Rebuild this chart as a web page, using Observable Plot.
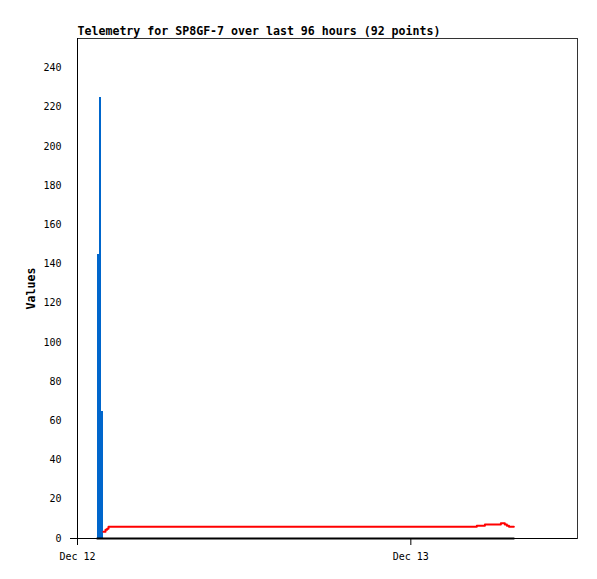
<!DOCTYPE html>
<html>
<head>
<meta charset="utf-8">
<script src="https://cdn.jsdelivr.net/npm/d3@7"></script>
<script src="https://cdn.jsdelivr.net/npm/@observablehq/plot@0.6"></script>
<style>
  html, body { margin: 0; padding: 0; background: #fff; }
  #chart svg { display: block; }
</style>
</head>
<body>
<div id="chart"></div>
<script>
// ---- data ----
const title = "Telemetry for SP8GF-7 over last 96 hours (92 points)";
const yLabel = "Values";
const xDomain = ["2023-12-12T00:00Z", "2023-12-13T12:00Z"];
const xTicks = ["2023-12-12T00:00Z", "2023-12-13T00:00Z"];
const yTicks = [0, 20, 40, 60, 80, 100, 120, 140, 160, 180, 200, 220, 240];

// blue series (bars)
const blueTimes = ["2023-12-12T01:25Z", "2023-12-12T01:37Z", "2023-12-12T01:44Z"];
const blueEnds  = ["2023-12-12T01:37Z", "2023-12-12T01:44Z", "2023-12-12T01:52Z"];
const blueValues = [145, 225, 65];

// red series (line)
const redTimes = ["2023-12-12T01:52Z", "2023-12-12T02:01Z", "2023-12-12T02:08Z", "2023-12-12T02:14Z",
  "2023-12-13T04:45Z", "2023-12-13T05:20Z", "2023-12-13T06:29Z", "2023-12-13T06:46Z",
  "2023-12-13T06:55Z", "2023-12-13T07:04Z", "2023-12-13T07:25Z"];
const redValues = [3.5, 4.5, 5, 6, 6.5, 7.1, 7.8, 7.1, 6.5, 6, 6];

// black series (zero line)
const blackTimes = ["2023-12-12T01:25Z", "2023-12-13T07:25Z"];
const blackValues = [0, 0];

// ---- build tables ----
const P = d3.isoParse;
const bars = blueTimes.map((t, i) => ({x1: P(t), x2: P(blueEnds[i]), y: blueValues[i]}));
const red = redTimes.map((t, i) => ({x: P(t), y: redValues[i]}));
const black = blackTimes.map((t, i) => ({x: P(t), y: blackValues[i]}));

const font = "'DejaVu Sans Mono', 'Liberation Mono', monospace";

const chart = Plot.plot({
  width: 597,
  height: 579,
  marginLeft: 77,
  marginRight: 20,
  marginTop: 38,
  marginBottom: 41,
  style: {fontFamily: font, fontSize: "10px", color: "#000", background: "#fff"},
  x: {type: "utc", domain: xDomain.map(P)},
  y: {domain: [0, 255]},
  marks: [
    Plot.frame({stroke: "#333", strokeWidth: 1}),
    Plot.rectY(bars, {x1: "x1", x2: "x2", y: "y", fill: "#0066cc", inset: 0, shapeRendering: "crispEdges"}),
    Plot.line(red, {x: "x", y: "y", stroke: "#ff0000", strokeWidth: 2, curve: "step-after"}),
    Plot.line(black, {x: "x", y: "y", stroke: "#000", strokeWidth: 2}),
    Plot.ruleY([0], {stroke: "#000", strokeWidth: 1}),
    Plot.ruleX([P(xDomain[0])], {stroke: "#000", strokeWidth: 1}),
    Plot.axisY({ticks: yTicks, tickSize: 0, tickPadding: 16, label: null, fontSize: 10, fill: "#000"}),
    Plot.axisY({ticks: [0], tickSize: 7, tickFormat: () => "", label: null, stroke: "#000"}),
    Plot.axisX({ticks: xTicks.map(P), tickSize: 7, tickPadding: 7, label: null,
      tickFormat: d3.utcFormat("%b %d"), fontSize: 10, fill: "#000", stroke: "#000"}),
    Plot.text([title], {frameAnchor: "top-left", textAnchor: "start", lineAnchor: "bottom",
      dy: -4, fontSize: 11.6, fontWeight: "bold", fill: "#000"}),
    Plot.text([yLabel], {frameAnchor: "left", dx: -46, rotate: -90, textAnchor: "middle",
      fontSize: 11.6, fontWeight: "bold", fill: "#000"})
  ]
});
document.getElementById("chart").appendChild(chart);
</script>
</body>
</html>
